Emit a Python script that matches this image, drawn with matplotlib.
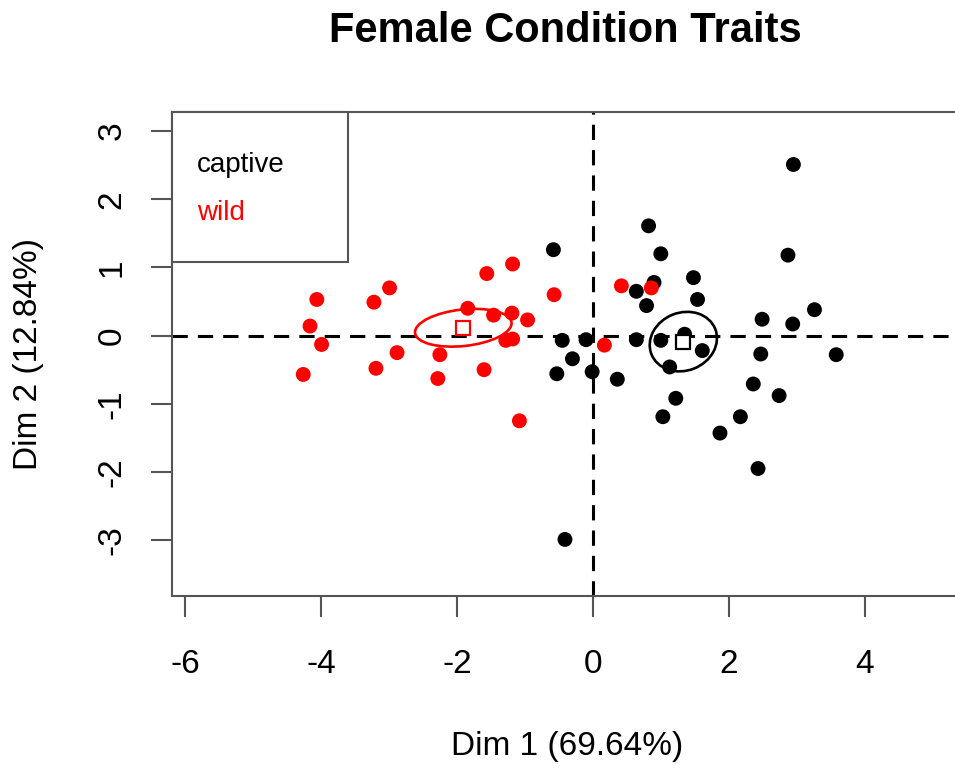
import numpy as np
import matplotlib
matplotlib.use("Agg")
import matplotlib.pyplot as plt
from matplotlib.patches import Ellipse, Rectangle

plt.rcParams['font.family'] = ['Liberation Sans', 'DejaVu Sans']

# ---- data (Dim 1, Dim 2 coordinates of individuals) ----
wild_x = [-4.06, -4.16, -3.99, -4.26, -3.22, -2.99, -2.88, -3.19, -2.25, -2.28,
          -1.56, -1.18, -0.57, -1.84, -1.46, -1.19, -0.96, -1.28, -1.18, -1.60,
          0.17, 0.42, 0.86, -1.08]
wild_y = [0.53, 0.14, -0.13, -0.57, 0.49, 0.70, -0.25, -0.48, -0.28, -0.63,
          0.91, 1.05, 0.60, 0.40, 0.30, 0.33, 0.23, -0.07, -0.05, -0.50,
          -0.14, 0.73, 0.70, -1.25]
captive_x = [2.95, 0.82, -0.58, 1.00, 2.87, 1.48, 0.90, 0.64, 1.54, 0.79,
             3.26, 2.49, 2.94, -0.45, -0.10, 0.64, 1.00, 1.35, 1.61, 2.47,
             3.58, -0.30, 1.13, 0.36, 1.22, 2.36, 2.74, 1.03, 2.17, 1.87,
             2.43, -0.53, -0.01, -0.41]
captive_y = [2.51, 1.61, 1.26, 1.20, 1.18, 0.85, 0.78, 0.65, 0.53, 0.44,
             0.38, 0.24, 0.17, -0.07, -0.06, -0.06, -0.07, 0.02, -0.22, -0.27,
             -0.28, -0.34, -0.46, -0.64, -0.92, -0.71, -0.88, -1.19, -1.19, -1.43,
             -1.95, -0.56, -0.53, -2.99]
groups = ["captive", "wild"]
group_colors = {"captive": "black", "wild": "#ff0000"}
x_ticks = [-6, -4, -2, 0, 2, 4]
y_ticks = [-3, -2, -1, 0, 1, 2, 3]
title = "Female Condition Traits"
xlabel = "Dim 1 (69.64%)"
ylabel = "Dim 2 (12.84%)"

data = {"captive": (np.array(captive_x), np.array(captive_y)),
        "wild": (np.array(wild_x), np.array(wild_y))}

W, H = 955, 770
fig = plt.figure(figsize=(W / 100, H / 100), dpi=100)
ax = fig.add_axes([172 / W, (H - 596) / H, (962 - 172) / W, (596 - 112) / H])
ax.set_xlim(-6.19, 5.43)
ax.set_ylim(-3.82, 3.28)

ax.axhline(0, color="black", lw=2.2, dashes=(5, 3.3), zorder=1)
ax.axvline(0, color="black", lw=2.2, dashes=(5, 3.3), zorder=1)

chi_t = np.sqrt(5.991)
for g in groups:
    xs, ys = data[g]
    c = group_colors[g]
    ax.scatter(xs, ys, s=115, color=c, edgecolors="none", zorder=3)
    mx, my = xs.mean(), ys.mean()
    ax.plot([mx], [my], marker="s", ms=9.5, mfc="white", mec=c, mew=1.6,
            linestyle="none", zorder=4)
    cov = np.cov(np.vstack([xs, ys]), ddof=0) / len(xs)
    vals, vecs = np.linalg.eigh(cov)
    order = vals.argsort()[::-1]
    vals, vecs = vals[order], vecs[:, order]
    ang = np.degrees(np.arctan2(vecs[1, 0], vecs[0, 0]))
    ell = Ellipse((mx, my), 2 * chi_t * np.sqrt(vals[0]), 2 * chi_t * np.sqrt(vals[1]),
                  angle=ang, fill=False, edgecolor=c, lw=1.9, zorder=4)
    ax.add_patch(ell)

frame_col = "#555555"
for s in ax.spines.values():
    s.set_color(frame_col)
    s.set_linewidth(1.5)

ax.set_xticks(x_ticks)
ax.set_yticks(y_ticks)
ax.set_xticklabels([str(v) for v in x_ticks])
ax.set_yticklabels([str(v) for v in y_ticks], rotation=90, va="center")
ax.tick_params(axis="both", length=15, width=1.5, color=frame_col,
               labelsize=24, labelcolor="black")
ax.tick_params(axis="x", pad=23)
ax.tick_params(axis="y", pad=17)

# legend box (R style)
lx1 = (348 - 172) / 790
ly0 = (596 - 262) / 484
ax.add_patch(Rectangle((0, ly0), lx1, 1 - ly0, transform=ax.transAxes,
                       fill=True, facecolor="white", edgecolor=frame_col,
                       lw=1.5, zorder=5, clip_on=False))
ax.text((197 - 172) / 790, (596 - 165) / 484, "captive", color="black",
        fontsize=20, va="center", ha="left", transform=ax.transAxes, zorder=6)
ax.text((197 - 172) / 790, (596 - 213) / 484, "wild", color="#ff0000",
        fontsize=20, va="center", ha="left", transform=ax.transAxes, zorder=6)

fig.text(565 / W, 1 - 31 / H, title, ha="center", va="center",
         fontsize=30, fontweight="bold")
fig.text(567 / W, 1 - 746 / H, xlabel, ha="center", va="center", fontsize=24)
fig.text(29 / W, 1 - 354 / H, ylabel, ha="center", va="center", fontsize=24,
         rotation=90)

fig.savefig("out.png", dpi=100)
